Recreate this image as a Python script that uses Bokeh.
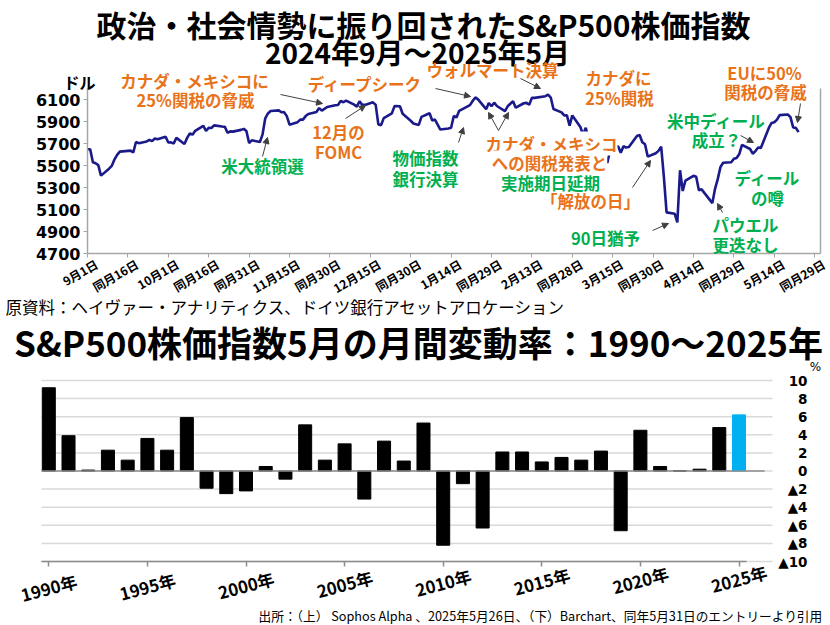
import math
import pandas as pd
from bokeh.plotting import figure
from bokeh.models import (ColumnDataSource, Label, LabelSet, Arrow, NormalHead,
                          FixedTicker, Range1d, LinearAxis)
from bokeh.embed import file_html
from bokeh.resources import INLINE
from bokeh.core.properties import value

# ---------------- data ----------------
sp_dates = [
    "2024-09-01", "2024-09-02", "2024-09-03", "2024-09-04", "2024-09-05", "2024-09-06",
    "2024-09-09", "2024-09-10", "2024-09-11", "2024-09-12", "2024-09-13",
    "2024-09-16", "2024-09-17", "2024-09-18", "2024-09-19", "2024-09-20",
    "2024-09-23", "2024-09-24", "2024-09-25", "2024-09-26", "2024-09-27",
    "2024-09-30", "2024-10-01", "2024-10-02", "2024-10-03", "2024-10-04",
    "2024-10-07", "2024-10-08", "2024-10-09", "2024-10-10", "2024-10-11",
    "2024-10-14", "2024-10-15", "2024-10-16", "2024-10-17", "2024-10-18",
    "2024-10-21", "2024-10-22", "2024-10-23", "2024-10-24", "2024-10-25",
    "2024-10-28", "2024-10-29", "2024-10-30", "2024-10-31", "2024-11-01",
    "2024-11-04", "2024-11-05", "2024-11-06", "2024-11-07", "2024-11-08",
    "2024-11-11", "2024-11-12", "2024-11-13", "2024-11-14", "2024-11-15",
    "2024-11-18", "2024-11-19", "2024-11-20", "2024-11-21", "2024-11-22",
    "2024-11-25", "2024-11-26", "2024-11-27", "2024-11-29",
    "2024-12-02", "2024-12-03", "2024-12-04", "2024-12-05", "2024-12-06",
    "2024-12-09", "2024-12-10", "2024-12-11", "2024-12-12", "2024-12-13",
    "2024-12-16", "2024-12-17", "2024-12-18", "2024-12-19", "2024-12-20",
    "2024-12-23", "2024-12-24", "2024-12-26", "2024-12-27",
    "2024-12-30", "2024-12-31", "2025-01-02", "2025-01-03",
    "2025-01-06", "2025-01-07", "2025-01-08", "2025-01-10",
    "2025-01-13", "2025-01-14", "2025-01-15", "2025-01-16", "2025-01-17",
    "2025-01-21", "2025-01-22", "2025-01-23", "2025-01-24",
    "2025-01-27", "2025-01-28", "2025-01-29", "2025-01-30", "2025-01-31",
    "2025-02-03", "2025-02-04", "2025-02-05", "2025-02-06", "2025-02-07",
    "2025-02-10", "2025-02-11", "2025-02-12", "2025-02-13", "2025-02-14",
    "2025-02-18", "2025-02-19", "2025-02-20", "2025-02-21",
    "2025-02-24", "2025-02-25", "2025-02-26", "2025-02-27", "2025-02-28",
    "2025-03-03", "2025-03-04", "2025-03-05", "2025-03-06", "2025-03-07",
    "2025-03-10", "2025-03-11", "2025-03-12", "2025-03-13", "2025-03-14",
    "2025-03-17", "2025-03-18", "2025-03-19", "2025-03-20", "2025-03-21",
    "2025-03-24", "2025-03-25", "2025-03-26", "2025-03-27", "2025-03-28",
    "2025-03-31", "2025-04-01", "2025-04-02", "2025-04-03", "2025-04-04",
    "2025-04-07", "2025-04-08", "2025-04-09", "2025-04-10", "2025-04-11",
    "2025-04-14", "2025-04-15", "2025-04-16", "2025-04-17",
    "2025-04-21", "2025-04-22", "2025-04-23", "2025-04-24", "2025-04-25",
    "2025-04-28", "2025-04-29", "2025-04-30", "2025-05-01", "2025-05-02",
    "2025-05-05", "2025-05-06", "2025-05-07", "2025-05-08", "2025-05-09",
    "2025-05-12", "2025-05-13", "2025-05-14", "2025-05-15", "2025-05-16",
    "2025-05-19", "2025-05-20", "2025-05-21", "2025-05-22", "2025-05-23",
]
sp_close = [
    5648, 5648, 5529, 5520, 5503, 5408,
    5471, 5496, 5554, 5596, 5626,
    5633, 5635, 5618, 5714, 5703,
    5719, 5733, 5722, 5745, 5738,
    5762, 5709, 5710, 5700, 5751,
    5696, 5751, 5792, 5780, 5815,
    5860, 5815, 5842, 5841, 5865,
    5854, 5851, 5797, 5810, 5808,
    5824, 5833, 5814, 5705, 5729,
    5713, 5783, 5929, 5973, 5996,
    6001, 5984, 5985, 5949, 5871,
    5894, 5917, 5917, 5949, 5969,
    5987, 6022, 5999, 6032,
    6047, 6050, 6086, 6075, 6090,
    6053, 6035, 6084, 6051, 6051,
    6074, 6051, 5872, 5867, 5931,
    5974, 6040, 6038, 5971,
    5907, 5882, 5869, 5942,
    5975, 5909, 5918, 5827,
    5836, 5843, 5950, 5937, 5997,
    6049, 6086, 6119, 6101,
    6012, 6068, 6039, 6071, 6041,
    5995, 6038, 6061, 6084, 6026,
    6066, 6069, 6052, 6115, 6115,
    6130, 6144, 6118, 6013,
    5983, 5955, 5956, 5862, 5955,
    5850, 5778, 5843, 5739, 5770,
    5615, 5572, 5599, 5522, 5639,
    5675, 5615, 5675, 5663, 5668,
    5768, 5777, 5712, 5693, 5581,
    5612, 5633, 5671, 5397, 5074,
    5062, 4983, 5457, 5268, 5363,
    5406, 5397, 5276, 5283,
    5158, 5288, 5376, 5485, 5525,
    5529, 5561, 5569, 5604, 5687,
    5650, 5607, 5631, 5664, 5660,
    5844, 5887, 5893, 5917, 5958,
    5964, 5940, 5845, 5842, 5803,
]
x_tick_labels = ["9月1日", "同月16日", "10月1日", "同月16日", "同月31日", "11月15日",
                 "同月30日", "12月15日", "同月30日", "1月14日", "同月29日", "2月13日",
                 "同月28日", "3月15日", "同月30日", "4月14日", "同月29日", "5月14日",
                 "同月29日"]
x_tick_step_days = 15
y_ticks_top = [4700, 4900, 5100, 5300, 5500, 5700, 5900, 6100]
y_top_min, y_top_max = 4700, 6200

may_years = list(range(1990, 2026))
may_returns = [9.2, 3.9, 0.1, 2.3, 1.2, 3.6, 2.3, 5.9, -1.9, -2.5,
               -2.2, 0.5, -0.9, 5.1, 1.2, 3.0, -3.1, 3.3, 1.1, 5.3,
               -8.2, -1.4, -6.3, 2.1, 2.1, 1.0, 1.5, 1.2, 2.2, -6.6,
               4.5, 0.5, 0.01, 0.2, 4.8, 6.2]
year_ticks = [1990, 1995, 2000, 2005, 2010, 2015, 2020, 2025]
pct_ticks = [10, 8, 6, 4, 2, 0, -2, -4, -6, -8, -10]

assert len(sp_dates) == len(sp_close)
assert len(may_years) == len(may_returns)

# ---------------- styles ----------------
JP = "Noto Sans CJK JP"
NUM = "DejaVu Sans"
ORANGE = "#e8731a"
GREEN = "#00b050"
NAVY = "#1a1a8a"
AX_GRAY = "#a6a6a6"
BAR_AX = "#8c8c8c"
ARROW_C = "#404040"

W, H = 830, 625

# ---------------- page-pixel <-> data mapping ----------------
# upper chart
F1L, F1R, F1T, F1B = 87, 820, 88, 253
PX_PER_DAY = 40.4 / 15.0


def X1(px):
    return (px - F1L) / PX_PER_DAY


def Y1p(py):
    return y_top_max - (py - F1T) * (y_top_max - y_top_min) / (F1B - F1T)


# lower chart
PX_PER_YEAR = 19.72
PX_PER_PCT = 9.05
X0_PX = 48.3
BOTTOM_PX = 561


def X2(px):
    return may_years[0] + (px - X0_PX) / PX_PER_YEAR


def Y2(py):
    return pct_ticks[-1] + (BOTTOM_PX - py) / PX_PER_PCT


XEND = X1(F1R)
GX0, GX1 = X2(41), X2(772)
B = dict(x_range_name="x2", y_range_name="y2")

p = figure(width=W, height=H, x_range=Range1d(X1(0), X1(W)),
           y_range=Range1d(Y1p(H), Y1p(0)), title=None,
           output_backend="svg", toolbar_location=None,
           min_border_left=0, min_border_right=0, min_border_top=0, min_border_bottom=0)
p.extra_x_ranges = {"x2": Range1d(X2(0), X2(W))}
p.extra_y_ranges = {"y2": Range1d(Y2(H), Y2(0))}
p.outline_line_color = None
p.grid.visible = False
p.background_fill_color = "white"
p.border_fill_color = "white"

# ================= upper chart =================
start = pd.Timestamp(sp_dates[0])
days = [(pd.Timestamp(d) - start).days for d in sp_dates]
tick_days = [i * x_tick_step_days for i in range(len(x_tick_labels))]

p.line(days, sp_close, line_color=NAVY, line_width=2.6)
p.segment(x0=[XEND], y0=[y_top_min], x1=[XEND], y1=[y_top_max],
          line_color=AX_GRAY, line_width=1.5)

xa = p.xaxis[0]
xa.fixed_location = y_top_min
xa.bounds = (0, XEND)
xa.ticker = FixedTicker(ticks=tick_days)
xa.major_label_text_color = None
xa.major_label_text_font_size = "8px"
xa.axis_line_color = AX_GRAY
xa.axis_line_width = 1.5
xa.major_tick_line_color = AX_GRAY
xa.major_tick_in = 0
xa.major_tick_out = 4
xa.minor_tick_line_color = None

ya = p.yaxis[0]
ya.fixed_location = 0
ya.bounds = (y_top_min, y_top_max)
ya.ticker = FixedTicker(ticks=y_ticks_top)
ya.major_label_text_font = NUM
ya.major_label_text_font_style = "bold"
ya.major_label_text_font_size = "16px"
ya.major_label_text_color = "black"
ya.major_label_standoff = 3
ya.axis_line_color = AX_GRAY
ya.axis_line_width = 1.5
ya.major_tick_line_color = AX_GRAY
ya.major_tick_in = 0
ya.major_tick_out = 4
ya.minor_tick_line_color = None

xl_src = ColumnDataSource(dict(x=[d + 9 / PX_PER_DAY for d in tick_days],
                               y=[Y1p(262)] * len(tick_days), t=x_tick_labels))
p.add_layout(LabelSet(x="x", y="y", text="t", source=xl_src, text_align="right",
                      text_baseline="middle", angle=math.pi / 6,
                      text_font=value(JP), text_font_style="bold",
                      text_font_size="12px", text_color="black"))


def lab(text, x, y, color="black", size="16.5px", font=JP, bold=True,
        align="center", bg=None, **kw):
    if bg:
        kw.update(background_fill_color=bg, background_fill_alpha=1.0)
    p.add_layout(Label(x=x, y=y, text=text, text_color=color,
                       text_font=font, text_font_size=size,
                       text_font_style="bold" if bold else "normal",
                       text_align=align, text_baseline="middle", **kw))


lab("政治・社会情勢に振り回されたS&P500株価指数", X1(423), Y1p(23.5), size="30px")
lab("2024年9月～2025年5月", X1(417), Y1p(51), size="28px")
lab("ドル", X1(79), Y1p(81), size="16px")
lab("原資料：ヘイヴァー・アナリティクス、ドイツ銀行アセットアロケーション",
    X1(5), Y1p(306), size="16.5px", bold=False, align="left")

notes = [
    ("カナダ・メキシコに", 194, 80.5, ORANGE, None),
    ("25%関税の脅威", 195, 99.5, ORANGE, None),
    ("ディープシーク", 365, 83, ORANGE, None),
    ("12月の", 338, 131, ORANGE, None),
    ("FOMC", 338, 151, ORANGE, None),
    ("米大統領選", 262, 165, GREEN, None),
    ("物価指数", 425, 157, GREEN, None),
    ("銀行決算", 425, 178, GREEN, None),
    ("ウォルマート決算", 492, 69.5, ORANGE, None),
    ("カナダに", 618, 77, ORANGE, None),
    ("25%関税", 619, 97, ORANGE, None),
    ("EUに50%", 764, 72, ORANGE, None),
    ("関税の脅威", 765, 91, ORANGE, None),
    ("カナダ・メキシコ", 551, 143, ORANGE, "white"),
    ("への関税発表と", 549, 162, ORANGE, "white"),
    ("実施期日延期", 550, 182, GREEN, None),
    ("「解放の日」", 590, 200, ORANGE, None),
    ("90日猶予", 605, 237, GREEN, None),
    ("米中ディール", 716, 120, GREEN, None),
    ("成立？", 716, 139, GREEN, None),
    ("ディール", 767, 177, GREEN, None),
    ("の噂", 767, 197, GREEN, None),
    ("パウエル", 745, 224, GREEN, None),
    ("更迭なし", 745, 244, GREEN, None),
]
for t, px, py, c, bg in notes:
    lab(t, X1(px), Y1p(py), color=c, bg=bg)

arrows = [
    (280, 94, 322, 103), (262, 156, 267, 137), (345, 118, 365, 105),
    (435, 88, 470, 96), (458, 142, 463, 127), (520, 78, 540, 88),
    (498, 130, 488, 112), (498, 130, 508, 112), (632, 187, 650, 160),
    (652, 230, 668, 223), (722, 212, 717, 203), (740, 135, 753, 142),
    (800, 103, 797, 122),
]
for xs, ys, xe, ye in arrows:
    p.add_layout(Arrow(end=NormalHead(size=6, fill_color=ARROW_C, line_color=ARROW_C),
                       x_start=X1(xs), y_start=Y1p(ys), x_end=X1(xe), y_end=Y1p(ye),
                       line_color=ARROW_C, line_width=1))

# ================= lower chart =================
n = len(pct_ticks)
p.segment(x0=[GX0] * n, y0=pct_ticks, x1=[GX1] * n, y1=pct_ticks,
          line_color="#d9d9d9", line_width=1.5, **B)

colors = ["#00b0f0" if y == may_years[-1] else "black" for y in may_years]
src = ColumnDataSource(dict(x=may_years, top=may_returns, color=colors))
p.vbar(x="x", top="top", bottom=0, width=0.66, fill_color="color", line_color="color",
       source=src, **B)
p.segment(x0=[GX0], y0=[0], x1=[may_years[-1] + 1.3], y1=[0], line_color=BAR_AX,
          line_width=1.5, **B)

xb = LinearAxis(fixed_location=pct_ticks[-1], ticker=FixedTicker(ticks=year_ticks),
                bounds=(GX0, may_years[-1] + 0.36),
                major_label_text_color=None, major_label_text_font_size="8px",
                axis_line_color=BAR_AX, axis_line_width=1.5,
                major_tick_line_color=BAR_AX, major_tick_line_width=1.5,
                major_tick_in=0, major_tick_out=5, minor_tick_line_color=None, **B)
p.add_layout(xb, "below")

yb = LinearAxis(fixed_location=X2(807), ticker=FixedTicker(ticks=pct_ticks),
                major_label_overrides={v: (("▲" + str(abs(v))) if v < 0 else str(v))
                                       for v in pct_ticks},
                major_label_text_font=NUM, major_label_text_font_style="bold",
                major_label_text_font_size="13.5px", major_label_text_color="black",
                major_label_standoff=0, axis_line_color=None, major_tick_line_color=None,
                minor_tick_line_color=None, major_tick_in=0, major_tick_out=0, **B)
p.add_layout(yb, "left")

m = len(year_ticks)
xsrc = ColumnDataSource(dict(x=year_ticks,
                             y=[Y2(587 - 9 * i / (m - 1)) for i in range(m)],
                             t=[f"{y}年" for y in year_ticks]))
p.add_layout(LabelSet(x="x", y="y", text="t", source=xsrc, text_align="center",
                      text_baseline="middle", angle=0.26, text_font=value(JP),
                      text_font_style="bold", text_font_size="17px", text_color="black",
                      **B))

lab("%", X2(815), Y2(366), size="12px", font=NUM, bold=False, **B)
lab("S&P500株価指数5月の月間変動率：1990～2025年", X2(418), Y2(341), size="35px", **B)
lab("出所：（上） Sophos Alpha 、2025年5月26日、（下）Barchart、同年5月31日のエントリーより引用",
    X2(822), Y2(615), size="12.7px", bold=False, align="right", **B)

with open("out.html", "w", encoding="utf-8") as f:
    f.write(file_html(p, INLINE))
